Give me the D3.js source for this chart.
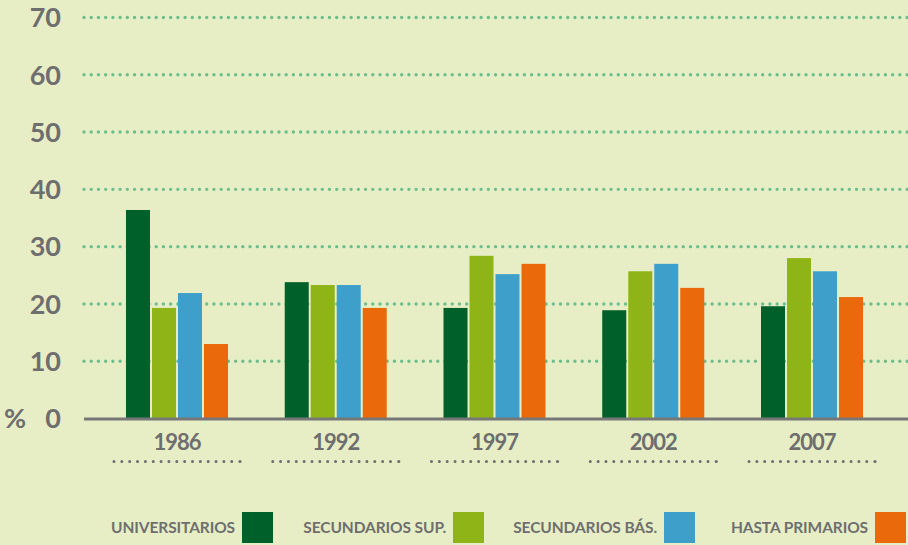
<!DOCTYPE html>
<html>
<head>
<meta charset="utf-8">
<script src="https://cdn.jsdelivr.net/npm/d3@7/dist/d3.min.js"></script>
<style>
  html, body { margin: 0; padding: 0; background: #e7eec6; }
  svg { display: block; }
  text { font-family: Lato, "Open Sans", sans-serif; font-weight: 700; fill: #6e6e6e; }
</style>
</head>
<body>
<svg id="chart" width="908" height="545"></svg>
<script>
const years = ["1986", "1992", "1997", "2002", "2007"];
const seriesNames = ["UNIVERSITARIOS", "SECUNDARIOS SUP.", "SECUNDARIOS BÁS.", "HASTA PRIMARIOS"];
const universitarios = [36.4, 23.8, 19.3, 18.9, 19.6];
const secundariosSup = [19.3, 23.3, 28.4, 25.7, 28.0];
const secundariosBas = [21.9, 23.3, 25.2, 27.0, 25.7];
const hastaPrimarios = [13.0, 19.3, 27.0, 22.8, 21.2];
const yTicks = [0, 10, 20, 30, 40, 50, 60, 70];
const colors = ["#00602a", "#8fb418", "#3f9fcb", "#ea690b"];

const seriesValues = [universitarios, secundariosSup, secundariosBas, hastaPrimarios];
const svg = d3.select("#chart");

const y = d3.scaleLinear().domain([0, 70]).range([418.5, 17.5]);
const x0 = d3.scaleBand().domain(years).range([97.6, 891.4]).paddingInner(0.3575).paddingOuter(0.3575 / 2);
const x1 = d3.scaleBand().domain(d3.range(4)).range([0, x0.bandwidth()]).paddingInner(2 / 26).paddingOuter(0);

// gridlines
svg.append("g").selectAll("line").data(yTicks.filter(d => d > 0)).join("line")
  .attr("x1", 84).attr("x2", 908)
  .attr("y1", d => y(d)).attr("y2", d => y(d))
  .attr("stroke", "#6cbf8c").attr("stroke-width", 3.4)
  .attr("stroke-linecap", "round").attr("stroke-dasharray", "0 7.22");

// y tick labels
svg.append("g").selectAll("text").data(yTicks).join("text")
  .attr("x", 61).attr("y", d => y(d))
  .attr("dy", "0.36em")
  .attr("text-anchor", "end")
  .style("font-size", "27px")
  .text(d => d);
svg.append("text").attr("x", 4).attr("y", y(0)).attr("dy", "0.36em")
  .style("font-size", "27px").text("%");

// bars
const groups = svg.append("g").selectAll("g").data(years).join("g")
  .attr("transform", d => `translate(${x0(d)},0)`);
groups.selectAll("rect").data((d, i) => seriesValues.map((s, k) => ({ k, v: s[i] }))).join("rect")
  .attr("x", d => x1(d.k)).attr("width", x1.bandwidth())
  .attr("y", d => y(d.v)).attr("height", d => y(0) - y(d.v))
  .attr("fill", d => colors[d.k]);

// x axis line
svg.append("line").attr("x1", 84).attr("x2", 908).attr("y1", y(0) + 0.5).attr("y2", y(0) + 0.5)
  .attr("stroke", "#777777").attr("stroke-width", 3.2);

// year labels
const xg = svg.append("g").selectAll("g").data(years).join("g")
  .attr("transform", d => `translate(${x0(d) + x0.bandwidth() / 2},0)`);
xg.append("text").attr("x", 0).attr("y", 450).attr("text-anchor", "middle")
  .style("font-size", "22px").style("letter-spacing", "-1px").text(d => d);
xg.append("line").attr("x1", -63).attr("x2", 55).attr("y1", 461.5).attr("y2", 461.5)
  .attr("stroke", "#6e6e6e").attr("stroke-width", 3).attr("stroke-linecap", "round")
  .attr("stroke-dasharray", "0 7.85");
xg.append("circle").attr("cx", 63).attr("cy", 461.5).attr("r", 1.6).attr("fill", "#6e6e6e");

// legend
const legendSquareX = [242, 453, 664, 875];
const legend = svg.append("g").selectAll("g").data(seriesNames).join("g")
  .attr("transform", (d, i) => `translate(${legendSquareX[i]},512)`);
legend.append("rect").attr("width", 31).attr("height", 31).attr("fill", (d, i) => colors[i]);
legend.append("text").attr("x", -7).attr("y", 21).attr("text-anchor", "end")
  .style("font-size", "15.5px").style("letter-spacing", "-0.1px").text(d => d);
</script>
</body>
</html>
